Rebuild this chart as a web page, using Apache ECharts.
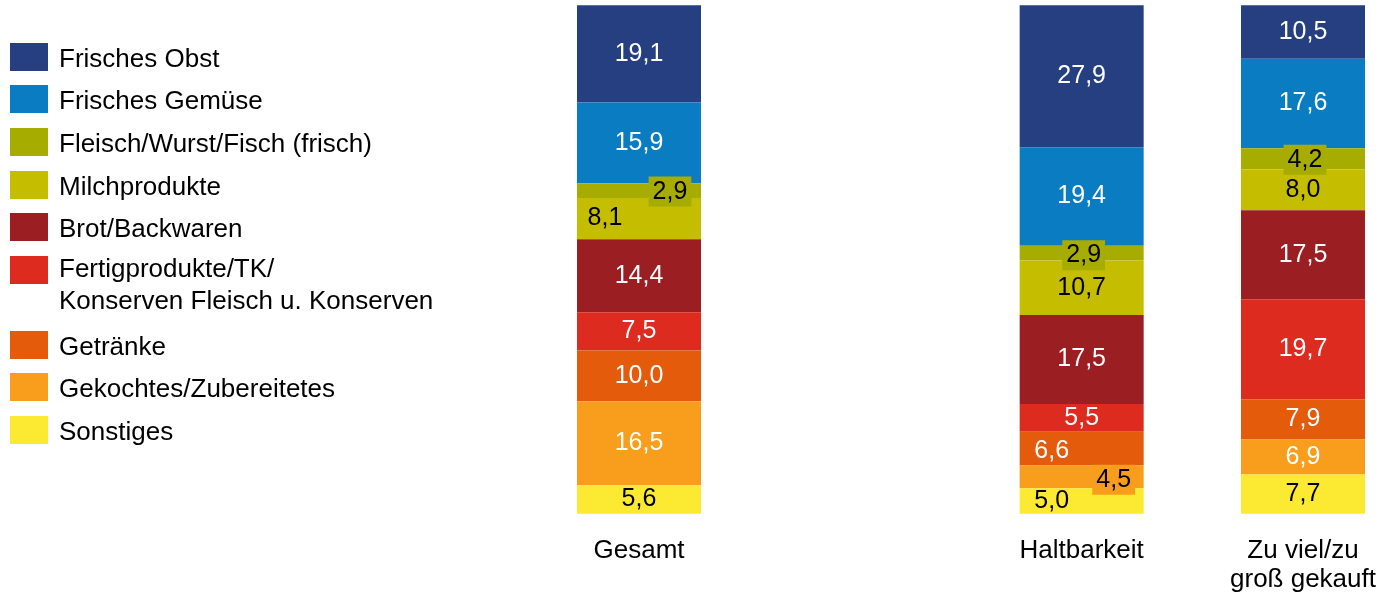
<!DOCTYPE html>
<html>
<head>
<meta charset="utf-8">
<script src="https://cdn.jsdelivr.net/npm/echarts@6/dist/echarts.min.js"></script>
<style>
  html, body { margin: 0; padding: 0; background: #fff; }
  #chart { width: 1383px; height: 596px; }
</style>
</head>
<body>
<div id="chart"></div>
<script>
// Kategorien (leere Spalte zwischen Gesamt und Haltbarkeit)
var categories = ['Gesamt', '', 'Haltbarkeit', 'Zu viel/zu\ngroß gekauft'];

// Werte in Prozent, von oben nach unten im Balken
var frischesObst    = [19.1, '-', 27.9, 10.5];
var frischesGemuese = [15.9, '-', 19.4, 17.6];
var fleischWurst    = [2.9, '-', 2.9, 4.2];
var milchprodukte   = [8.1, '-', 10.7, 8.0];
var brotBackwaren   = [14.4, '-', 17.5, 17.5];
var fertigprodukte  = [7.5, '-', 5.5, 19.7];
var getraenke       = [10.0, '-', 6.6, 7.9];
var gekochtes       = [16.5, '-', 4.5, 6.9];
var sonstiges       = [5.6, '-', 5.0, 7.7];

var seriesNames = [
  'Frisches Obst',
  'Frisches Gemüse',
  'Fleisch/Wurst/Fisch (frisch)',
  'Milchprodukte',
  'Brot/Backwaren',
  'Fertigprodukte/TK/\nKonserven Fleisch u. Konserven',
  'Getränke',
  'Gekochtes/Zubereitetes',
  'Sonstiges'
];
var seriesValues = [frischesObst, frischesGemuese, fleischWurst, milchprodukte,
  brotBackwaren, fertigprodukte, getraenke, gekochtes, sonstiges];

var colors = ['#263f80', '#0a7cc2', '#a6ad00', '#c5bd00', '#9b1e23',
  '#dd2b20', '#e35b0b', '#f99d1c', '#fbe932'];
var labelColors = ['#fff', '#fff', '#000', '#000', '#fff', '#fff', '#fff', '#fff', '#000'];

// verschobene Beschriftungen (Serie-Index, Daten-Index)
var labelTweaks = {
  '2-0': { offset: [31, 1], box: true },
  '3-0': { offset: [-34, 0] },
  '2-2': { offset: [2, 2], box: true },
  '6-2': { offset: [-30, 2] },
  '7-2': { offset: [32, 3], box: true, color: '#000' },
  '8-2': { offset: [-30, 0] },
  '2-3': { offset: [2, 1], box: true }
};

var FONT = '"Liberation Sans", Arial, Helvetica, sans-serif';

function fmt(v) {
  return v.toFixed(1).replace('.', ',');
}

var series = seriesNames.map(function (name, si) {
  return {
    name: name,
    type: 'bar',
    stack: 'total',
    barWidth: 124,
    itemStyle: { color: colors[si] },
    label: {
      show: true,
      position: 'inside',
      fontFamily: FONT,
      fontSize: 25,
      color: labelColors[si],
      formatter: function (p) { return fmt(p.value); }
    },
    data: seriesValues[si].map(function (v, di) {
      var t = labelTweaks[si + '-' + di];
      if (!t) return v;
      var lab = { offset: t.offset };
      if (t.color) lab.color = t.color;
      if (t.box) {
        lab.backgroundColor = colors[si];
        lab.padding = [3, 4, 2, 4];
      }
      return { value: v, label: lab };
    })
  };
});

// Legende: ein Block pro Eintrag, damit der zweizeilige Eintrag passt
var legendTops = [41, 83, 126, 169, 211, 219.5, 329, 371, 414];
var legends = seriesNames.map(function (name, i) {
  var multi = name.indexOf('\n') >= 0;
  var legend = {
    data: [{ name: name, icon: 'rect' }],
    orient: 'vertical',
    left: 10,
    top: legendTops[i],
    padding: 0,
    itemWidth: 38,
    itemHeight: 28,
    selectedMode: false
  };
  if (multi) {
    // leere erste Zeile, damit das Symbol neben der ersten Textzeile steht
    legend.formatter = function (n) { return '\n' + n; };
    legend.textStyle = {
      fontFamily: FONT, fontSize: 26, color: '#000',
      lineHeight: 32, padding: [5, 0, 0, 6]
    };
  } else {
    legend.formatter = function (n) { return '{t|' + n + '}'; };
    legend.textStyle = {
      fontFamily: FONT, fontSize: 26, color: '#000',
      rich: {
        t: {
          fontFamily: FONT, fontSize: 26, color: '#000',
          lineHeight: 28, padding: [6, 0, 0, 6]
        }
      }
    };
  }
  return legend;
});

var chart = echarts.init(document.getElementById('chart'));
chart.setOption({
  animation: false,
  backgroundColor: '#fff',
  legend: legends,
  grid: {
    left: 639,
    right: 80,
    top: 5.3,
    bottom: 82.3
  },
  xAxis: {
    type: 'category',
    data: categories,
    boundaryGap: false,
    axisLine: { show: false },
    axisTick: { show: false },
    splitLine: { show: false },
    axisLabel: {
      interval: 0,
      margin: 23,
      fontFamily: FONT,
      fontSize: 26,
      lineHeight: 29,
      color: '#000'
    }
  },
  yAxis: {
    type: 'value',
    inverse: true,
    min: 0,
    max: 100,
    show: false
  },
  series: series
});
</script>
</body>
</html>
